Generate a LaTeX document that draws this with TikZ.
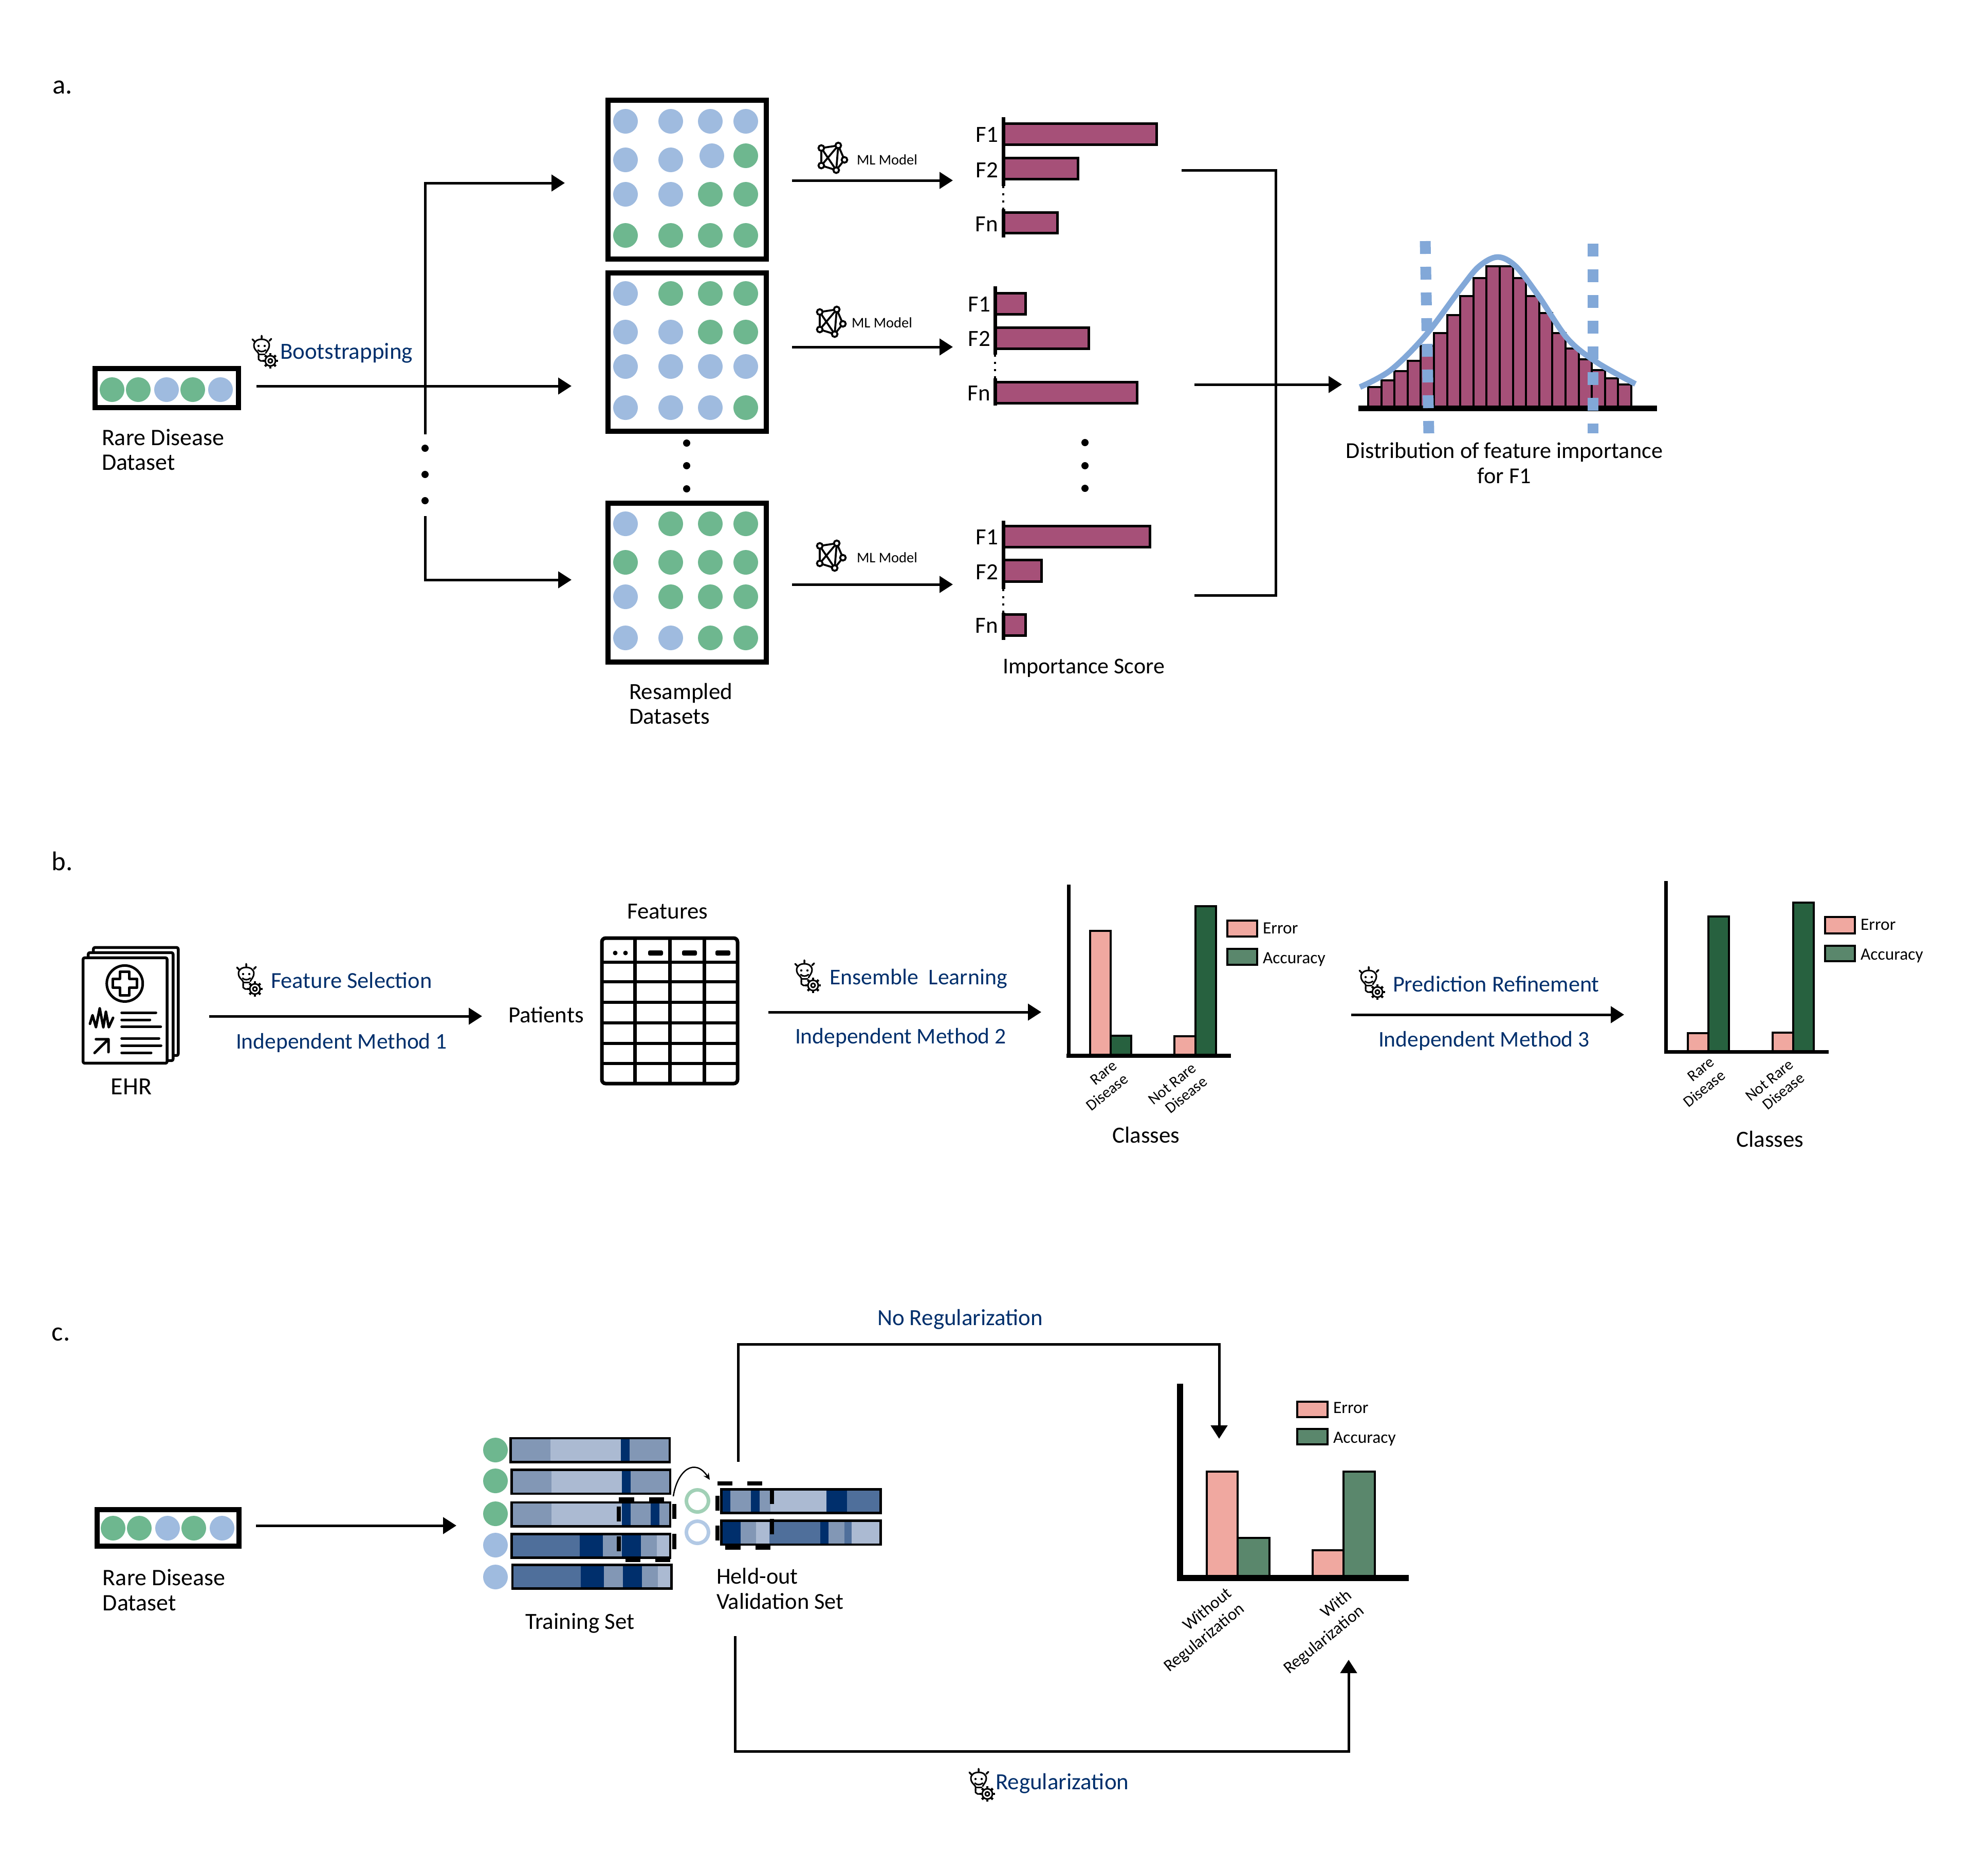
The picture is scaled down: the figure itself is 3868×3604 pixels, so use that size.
\documentclass[tikz,border=0pt]{standalone}
\usepackage{fontspec}
\setmainfont{Carlito}
\usetikzlibrary{arrows.meta}
\definecolor{cgreen}{HTML}{6EB78F}
\definecolor{cblue}{HTML}{9FBBDF}
\definecolor{navy}{HTML}{002F6C}
\definecolor{mag}{HTML}{A65078}
\definecolor{dist}{HTML}{82A8D8}
\definecolor{pink}{HTML}{F0A8A0}
\definecolor{dgreen}{HTML}{27613F}
\definecolor{lgreen}{HTML}{5A876C}
\definecolor{sA}{HTML}{002F6C}
\definecolor{sB}{HTML}{4F6F9B}
\definecolor{sC}{HTML}{8297B5}
\definecolor{sD}{HTML}{ABBAD2}
\tikzset{
  x=0.2pt,y=-0.2pt,
  tx/.style={font=\fontsize{9}{9.6}\selectfont,inner sep=0pt,outer sep=0pt,anchor=base west},
  bl/.style={tx,text=navy},
  bli/.style={bl,font=\fontsize{8.7}{9.6}\selectfont},
  txc/.style={tx,anchor=base},
  ml/.style={tx,font=\fontsize{5.7}{6}\selectfont},
  leg/.style={tx,font=\fontsize{6.7}{7}\selectfont},
  rotlab/.style={inner sep=0pt,outer sep=0pt,font=\fontsize{6.1}{6.8}\selectfont,align=right,rotate=39,anchor=base east},
  rotlabc/.style={inner sep=0pt,outer sep=0pt,font=\fontsize{6.6}{7.8}\selectfont,align=right,rotate=39,anchor=base east},
  panel/.style={tx,font=\fontsize{10.5}{11}\selectfont},
  conn/.style={line width=1pt,draw=black},
  arr/.style={conn,-{Triangle[length=5.2pt,width=6.4pt]}},
  framebox/.style={draw=black,line width=2pt,fill=white,inner sep=0pt,outer sep=0pt},
  hbar/.style={draw=black,line width=1pt,fill=mag},
  axisln/.style={draw=black,line width=1.4pt},
  vbar/.style={draw=black,line width=0.9pt},
  bulb/.pic={
    \draw[line width=.6pt,line cap=round,line join=round] (-6,20) -- (-6,13) .. controls (-6,10) and (-15,6) .. (-15,-3) .. controls (-15,-11) and (-8,-15) .. (0,-15) .. controls (8,-15) and (15,-11) .. (15,-3) .. controls (15,3) and (10,8) .. (8,12);
    \draw[line width=.6pt,line cap=round,line join=round] (-6,18) -- (-6,24) -- (-2,27) -- (4,27);
    \draw[line width=.6pt] (-6,14) -- (7,14);
    \fill (-6,-2) circle (2.2); \fill (6,-2) circle (2.2);
    \draw[line width=.6pt,line cap=round] (-7,6) .. controls (-3,10) and (3,10) .. (8,6);
    \draw[line width=.7pt,line cap=round] (-18,-15) -- (-14,-11) (0,-22) -- (0,-17) (19,-16) -- (15,-12);
    \foreach \a in {0,45,...,315}{\draw[line width=.9pt] (17,27) ++(\a:9) -- ++(\a:6);}
    \draw[line width=.6pt,fill=white] (17,27) circle (10);
    \draw[line width=.6pt,fill=white] (17,27) circle (4);
  },
  mlicon/.pic={
    \draw[line width=.75pt,line join=round] (0,0) -- (33,-5) -- (45,23) -- (29,43) -- (0,34) -- cycle (0,0) -- (29,43) (0,34) -- (33,-5) -- (29,43);
    \foreach \p in {(0,0),(33,-5),(45,23),(29,43),(0,34)}{\draw[line width=.75pt,fill=white] \p circle (5.5);}
  }
}
% outer edges are given; the node's border runs inside them
\newcommand{\rectnode}[6]{%
  \pgfmathsetmacro\rw{(#4-#2-8)*0.2}\pgfmathsetmacro\rh{(#5-#3-8)*0.2}%
  \node[#6,minimum width=\rw pt,minimum height=\rh pt] (#1) at ({(#2+#4)/2},{(#3+#5)/2}) {};}
\newcommand{\gridrow}[5]{% y then 4 colours
  \foreach \xx/\cc in {1217/#2,1305/#3,1382/#4,1451/#5}{\fill[\cc] (\xx,#1) circle (24);}}
\begin{document}
\begin{tikzpicture}
\useasboundingbox (0,0) rectangle (3868,3604);
\fill[white] (0,0) rectangle (3868,3604);

%% ---------- panel a
\node[panel] (la) at (102,182) {a.};
\rectnode{dsA}{181}{713}{468}{797}{framebox}
\foreach \xx/\cc in {218/cgreen,269/cgreen,324/cblue,375/cgreen,429/cblue}{\fill[\cc] (\xx,758) circle (24);}
\node[tx,align=left,font=\fontsize{9.2}{9.6}\selectfont] (tA) at (198,914) {Rare Disease\\Dataset};
\pic at (509,675) {bulb};
\node[bl] (tBoot) at (545,698) {Bootstrapping};

\rectnode{gA}{1179}{191}{1495}{508}{framebox}
\gridrow{236}{cblue}{cblue}{cblue}{cblue}
\fill[cblue] (1217,311) circle (24) (1305,311) circle (24) (1385,303) circle (24);
\fill[cgreen] (1451,303) circle (24);
\gridrow{378}{cblue}{cblue}{cgreen}{cgreen}
\gridrow{458}{cgreen}{cgreen}{cgreen}{cgreen}
\rectnode{gB}{1179}{527}{1495}{843}{framebox}
\gridrow{571}{cblue}{cgreen}{cgreen}{cgreen}
\gridrow{646}{cblue}{cblue}{cgreen}{cgreen}
\gridrow{713}{cblue}{cblue}{cblue}{cblue}
\gridrow{793}{cblue}{cblue}{cblue}{cgreen}
\rectnode{gC}{1179}{975}{1495}{1292}{framebox}
\gridrow{1019}{cblue}{cgreen}{cgreen}{cgreen}
\gridrow{1094}{cgreen}{cgreen}{cgreen}{cgreen}
\gridrow{1161}{cblue}{cgreen}{cgreen}{cgreen}
\gridrow{1241}{cblue}{cblue}{cgreen}{cgreen}
\node[tx,align=left] (tRes) at (1224,1408) {Resampled\\Datasets};

\coordinate (mS) at (499,751); \coordinate (mE) at (1112,751);
\coordinate (vT) at (827,356); \coordinate (vM) at (827,845); \coordinate (hT) at (1099,356);
\coordinate (vB1) at (827,1004); \coordinate (vB2) at (827,1128); \coordinate (hB) at (1112,1128);
\draw[arr] (mS) -- (mE);
\draw[arr] (vM) -- (vT) -- (hT);
\draw[arr] (vB1) -- (vB2) -- (hB);
\foreach \yy in {872,923,974}{\fill (827,\yy) circle (7);}
\foreach \yy in {862,906,951}{\fill (1336,\yy) circle (7);}

\coordinate (mlA1) at (1541,351); \coordinate (mlA2) at (1854,351);
\coordinate (mlB1) at (1541,675); \coordinate (mlB2) at (1854,675);
\coordinate (mlC1) at (1541,1137); \coordinate (mlC2) at (1854,1137);
\draw[arr] (mlA1) -- (mlA2);
\draw[arr] (mlB1) -- (mlB2);
\draw[arr] (mlC1) -- (mlC2);
\pic at (1598,288) {mlicon};
\pic at (1595,607) {mlicon};
\pic at (1595,1062) {mlicon};
\node[ml] (tM1) at (1667,320) {ML Model};
\node[ml] (tM2) at (1657,637) {ML Model};
\node[ml] (tM3) at (1667,1094) {ML Model};

% feature charts
\draw[hbar] (1952,240) rectangle (2250,281);
\draw[hbar] (1952,307) rectangle (2097,348);
\draw[hbar] (1952,413) rectangle (2057,453);
\draw[axisln] (1952,228) -- (1952,362) (1952,407) -- (1952,462);
\draw[line width=.7pt,dash pattern=on .8pt off 2pt] (1952,362) -- (1952,407);
\node[tx,anchor=base east] (f11) at (1942,276) {F1};
\node[tx,anchor=base east] (f12) at (1942,345) {F2};
\node[tx,anchor=base east] (f1n) at (1942,450) {Fn};

\draw[hbar] (1936,570) rectangle (1995,611);
\draw[hbar] (1936,637) rectangle (2118,678);
\draw[hbar] (1936,743) rectangle (2212,784);
\draw[axisln] (1936,557) -- (1936,690) (1936,736) -- (1936,789);
\draw[line width=.7pt,dash pattern=on .8pt off 2pt] (1936,690) -- (1936,736);
\node[tx,anchor=base east] (f21) at (1927,606) {F1};
\node[tx,anchor=base east] (f22) at (1927,673) {F2};
\node[tx,anchor=base east] (f2n) at (1927,779) {Fn};

\draw[hbar] (1952,1023) rectangle (2237,1064);
\draw[hbar] (1952,1089) rectangle (2026,1131);
\draw[hbar] (1952,1195) rectangle (1995,1236);
\draw[axisln] (1952,1013) -- (1952,1146) (1952,1192) -- (1952,1245);
\draw[line width=.7pt,dash pattern=on .8pt off 2pt] (1952,1146) -- (1952,1192);
\node[tx,anchor=base east] (f31) at (1942,1059) {F1};
\node[tx,anchor=base east] (f32) at (1942,1127) {F2};
\node[tx,anchor=base east] (f3n) at (1942,1231) {Fn};
\foreach \yy in {861,906,950}{\fill (2111,\yy) circle (7);}
\node[tx,font=\fontsize{8.8}{9.6}\selectfont] (tImp) at (1951,1310) {Importance Score};

% bracket
\coordinate (brA) at (2299,331); \coordinate (brB) at (2482,331); \coordinate (brC) at (2482,1158); \coordinate (brD) at (2324,1158);
\coordinate (brS) at (2324,748); \coordinate (brE) at (2611,748);
\draw[conn] (brA) -- (brB) -- (brC) -- (brD);
\draw[arr] (brS) -- (brE);

% histogram
\foreach \i/\t in {0/722,1/706,2/682,3/656,4/618,5/585,6/540,7/491,8/446,9/415,10/415,11/446,12/491,13/535,14/585,15/625,16/652,17/680,18/700,19/716}{
  \draw[draw=black,line width=.8pt,fill=mag] ({2662+\i*25.6},{200+\t/1.3067}) rectangle ({2662+(\i+1)*25.6},794);
}
\fill (2643,789) rectangle (3224,800);
\draw[dist,line width=4.2pt,dash pattern=on 5pt off 5pt] (2773,469) -- (2780,843);
\draw[dist,line width=4.2pt,dash pattern=on 5pt off 5pt] (3099,474) -- (3099,843);
\draw[dist,line width=2.2pt,line cap=butt] plot[smooth,tension=.55] coordinates {(2646,753) (2706,720) (2774,652) (2843,560) (2878,518) (2914,500) (2949,518) (2993,575) (3050,659) (3107,705) (3182,747)};
\node[tx,anchor=base,align=center,font=\fontsize{8.85}{9.8}\selectfont] (tDist) at (2927,940) {Distribution of feature importance\\for F1};

%% ---------- panel b
\node[panel] (lb) at (101,1693) {b.};
% EHR icon
\begin{scope}[shift={(120,1820)},x=0.0667pt,y=-0.0667pt,line join=round]
\draw[line width=1.1pt,rounded corners=.6pt,fill=white] (185,70) rectangle (680,700);
\draw[line width=1.1pt,rounded corners=.6pt,fill=white] (155,100) rectangle (650,730);
\draw[line width=1.1pt,rounded corners=.6pt,fill=white] (125,130) rectangle (615,745);
\draw[line width=1pt] (368,280) circle (105);
\draw[line width=1pt] (340,210) -- (395,210) -- (395,252) -- (440,252) -- (440,305) -- (395,305) -- (395,350) -- (340,350) -- (340,305) -- (298,305) -- (298,252) -- (340,252) -- cycle;
\draw[line width=1pt,line cap=round] (165,515) -- (180,465) -- (200,535) -- (222,425) -- (243,535) -- (258,445) -- (275,535) -- (300,480);
\draw[line width=1pt,line cap=round] (350,450) -- (550,450) (350,492) -- (515,492) (350,533) -- (578,533) (350,600) -- (568,600) (350,642) -- (580,642) (350,684) -- (522,684);
\draw[line width=1pt,line cap=round] (192,685) -- (273,605) (200,605) -- (273,605) -- (273,680);
\end{scope}
\node[tx,font=\fontsize{9.6}{9.6}\selectfont] (tEHR) at (216,2129) {EHR};
\coordinate (b1S) at (407,1977); \coordinate (b1E) at (938,1977);
\draw[arr] (b1S) -- (b1E);
\pic at (479,1897) {bulb};
\node[bl,font=\fontsize{8.9}{9.6}\selectfont] (tFS) at (527,1922) {Feature Selection};
\node[bli] (tM1b) at (459,2040) {Independent Method 1};
\node[tx] (tPat) at (989,1989) {Patients};
\node[tx] (tFeat) at (1220,1787) {Features};
% table
\draw[line width=1.4pt,rounded corners=1.5pt] (1171,1825) rectangle (1435,2108);
\foreach \yy in {1872,1910,1950,1990,2030,2069}{\draw[line width=1.2pt] (1171,\yy) -- (1435,\yy);}
\foreach \xx in {1235,1303,1370}{\draw[line width=1.4pt] (\xx,1825) -- (\xx,2108);}
\fill (1197,1854) circle (4.5) (1217,1854) circle (4.5);
\foreach \xx in {1261,1327,1392}{\fill[rounded corners=.6pt] (\xx,1849) rectangle ({\xx+29},1859);}

\coordinate (b2S) at (1495,1969); \coordinate (b2E) at (2026,1969);
\draw[arr] (b2S) -- (b2E);
\pic at (1565,1890) {bulb};
\node[bl,font=\fontsize{8.75}{9.6}\selectfont] (tEL) at (1614,1915) {Ensemble\ \ Learning};
\node[bli] (tM2b) at (1547,2030) {Independent Method 2};

% chart b1
\draw[vbar,fill=pink] (2121,1811) rectangle (2161,2054);
\draw[vbar,fill=dgreen] (2161,2015) rectangle (2201,2054);
\draw[vbar,fill=pink] (2285,2016) rectangle (2326,2054);
\draw[vbar,fill=dgreen] (2326,1763) rectangle (2366,2054);
\draw[line width=1.4pt] (2079,1721) -- (2079,2054);
\fill (2075,2050) rectangle (2395,2058);
\draw[vbar,fill=pink] (2388,1791) rectangle (2446,1822);
\draw[vbar,fill=lgreen] (2388,1846) rectangle (2446,1877);
\node[leg] (tE1) at (2457,1816) {Error};
\node[leg] (tA1) at (2457,1874) {Accuracy};
\node[rotlab] (r1) at (2197,2103) {Rare\\Disease};
\node[rotlab] (r2) at (2351,2108) {Not Rare\\Disease};
\node[txc] (tC1) at (2230,2223) {Classes};

\coordinate (b3S) at (2629,1974); \coordinate (b3E) at (3160,1974);
\draw[arr] (b3S) -- (b3E);
\pic at (2663,1903) {bulb};
\node[bl,font=\fontsize{8.85}{9.6}\selectfont] (tPR) at (2710,1929) {Prediction Refinement};
\node[bli] (tM3b) at (2682,2036) {Independent Method 3};

% chart b2
\draw[vbar,fill=pink] (3284,2010) rectangle (3324,2047);
\draw[vbar,fill=dgreen] (3324,1783) rectangle (3364,2047);
\draw[vbar,fill=pink] (3449,2009) rectangle (3489,2047);
\draw[vbar,fill=dgreen] (3489,1756) rectangle (3529,2047);
\draw[line width=1.4pt] (3241,1714) -- (3241,2047);
\fill (3238,2043) rectangle (3558,2050);
\draw[vbar,fill=pink] (3551,1784) rectangle (3609,1816);
\draw[vbar,fill=lgreen] (3551,1840) rectangle (3609,1870);
\node[leg] (tE2) at (3620,1809) {Error};
\node[leg] (tA2) at (3620,1867) {Accuracy};
\node[rotlab] (r3) at (3359,2096) {Rare\\Disease};
\node[rotlab] (r4) at (3513,2101) {Not Rare\\Disease};
\node[txc] (tC2) at (3444,2231) {Classes};

%% ---------- panel c
\node[panel] (lc) at (101,2608) {c.};
\rectnode{dsC}{185}{2933}{469}{3012}{framebox}
\foreach \xx/\cc in {220/cgreen,271/cgreen,326/cblue,377/cgreen,432/cblue}{\fill[\cc] (\xx,2973) circle (24);}
\node[tx,align=left,font=\fontsize{9.2}{9.8}\selectfont] (tC) at (200,3133) {Rare Disease\\Dataset};
\coordinate (cS) at (498,2968); \coordinate (cE) at (888,2968);
\draw[arr] (cS) -- (cE);

\foreach \yy/\cc in {2821/cgreen,2881/cgreen,2945/cgreen,3006/cblue,3068/cblue}{\fill[\cc] (964,\yy) circle (24);}
\draw[line width=1.4pt,color=cgreen!65!white] (1357,2920) circle (21.5);
\draw[line width=1.4pt,color=cblue!80!white] (1357,2981) circle (21.5);

\begin{scope}[shift={(900,2780)},x=0.11481pt,y=-0.06667pt]
\foreach \l/\r/\c in {160/298/sC,298/537/sD,537/566/sA,566/705/sC}{\fill[\c] (\l,49) rectangle (\r,198);}
\draw[line width=.9pt] (163,54) rectangle (702,193);
\foreach \l/\r/\c in {163/301/sC,301/540/sD,540/569/sA,569/707/sC}{\fill[\c] (\l,234) rectangle (\r,383);}
\draw[line width=.9pt] (166,239) rectangle (704,378);
\foreach \l/\r/\c in {163/301/sC,301/540/sD,540/569/sA,569/637/sC,637/668/sA,668/707/sC}{\fill[\c] (\l,424) rectangle (\r,573);}
\draw[line width=.9pt] (166,429) rectangle (704,568);
\foreach \l/\r/\c in {163/397/sB,397/476/sA,476/540/sC,540/605/sA,605/659/sC,659/707/sD}{\fill[\c] (\l,608) rectangle (\r,757);}
\draw[line width=.9pt] (166,613) rectangle (704,752);
\foreach \l/\r/\c in {166/400/sB,400/479/sA,479/543/sC,543/608/sA,608/662/sC,662/711/sD}{\fill[\c] (\l,788) rectangle (\r,937);}
\draw[line width=.9pt] (169,793) rectangle (708,932);
\foreach \l/\r/\c in {874/908/sA,908/977/sC,977/1007/sA,1007/1043/sC,1043/1233/sD,1233/1303/sA,1303/1420/sB}{\fill[\c] (\l,347) rectangle (\r,496);}
\draw[line width=.9pt] (877,352) rectangle (1417,491);
\foreach \l/\r/\c in {874/942/sA,942/995/sC,995/1040/sD,1040/1213/sB,1213/1241/sA,1241/1295/sC,1295/1319/sB,1319/1420/sD}{\fill[\c] (\l,531) rectangle (\r,680);}
\draw[line width=.9pt] (877,536) rectangle (1417,675);
% black marks
\foreach \a/\b/\c/\d in {530/399/582/424,632/399/683/424,523/453/537/540,711/438/725/524,523/627/537/714,711/612/725/702,552/757/603/776,653/757/704/776,864/307/915/329,965/307/1016/329,857/390/871/477,1042/352/1056/438,857/565/871/652,1042/525/1056/615,890/680/943/704,993/680/1044/704}{\fill (\a,\b) rectangle (\c,\d);}
\end{scope}
\coordinate (cvA) at (1310,2911); \coordinate (cvB) at (1381,2879);
\draw[line width=.5pt,-{Stealth[length=2.6pt,width=2.4pt]}] (cvA) .. controls (1318,2860) and (1352,2835) .. (cvB);
\node[tx] (tTrain) at (1022,3169) {Training Set};
\node[tx,align=left,font=\fontsize{8.9}{9.8}\selectfont] (tHeld) at (1394,3130) {Held-out\\Validation Set};

\coordinate (u0) at (1436,2844); \coordinate (u1) at (1436,2615); \coordinate (u2) at (2372,2615); \coordinate (u3) at (2372,2799);
\draw[arr] (u0) -- (u1) -- (u2) -- (u3);
\coordinate (d0) at (1430,3183); \coordinate (d1) at (1430,3407); \coordinate (d2) at (2624,3407); \coordinate (d3) at (2624,3229);
\draw[arr] (d0) -- (d1) -- (d2) -- (d3);
\node[bl] (tNR) at (1707,2578) {No Regularization};
\pic at (1904,3463) {bulb};
\node[bl] (tR) at (1937,3481) {Regularization};

% chart c
\draw[vbar,fill=pink] (2348,2863) rectangle (2408,3068);
\draw[vbar,fill=lgreen] (2408,2992) rectangle (2470,3068);
\draw[vbar,fill=pink] (2554,3016) rectangle (2614,3068);
\draw[vbar,fill=lgreen] (2614,2863) rectangle (2675,3068);
\fill (2290,2692) rectangle (2302,3076);
\fill (2290,3064) rectangle (2741,3076);
\draw[vbar,fill=pink] (2524,2727) rectangle (2583,2757);
\draw[vbar,fill=lgreen] (2524,2780) rectangle (2583,2810);
\node[leg] (tE3) at (2594,2749) {Error};
\node[leg] (tA3) at (2594,2807) {Accuracy};
\node[rotlabc] (r5) at (2423,3134) {Without\\Regularization};
\node[rotlabc] (r6) at (2656,3138) {With\\Regularization};
\end{tikzpicture}
\end{document}
